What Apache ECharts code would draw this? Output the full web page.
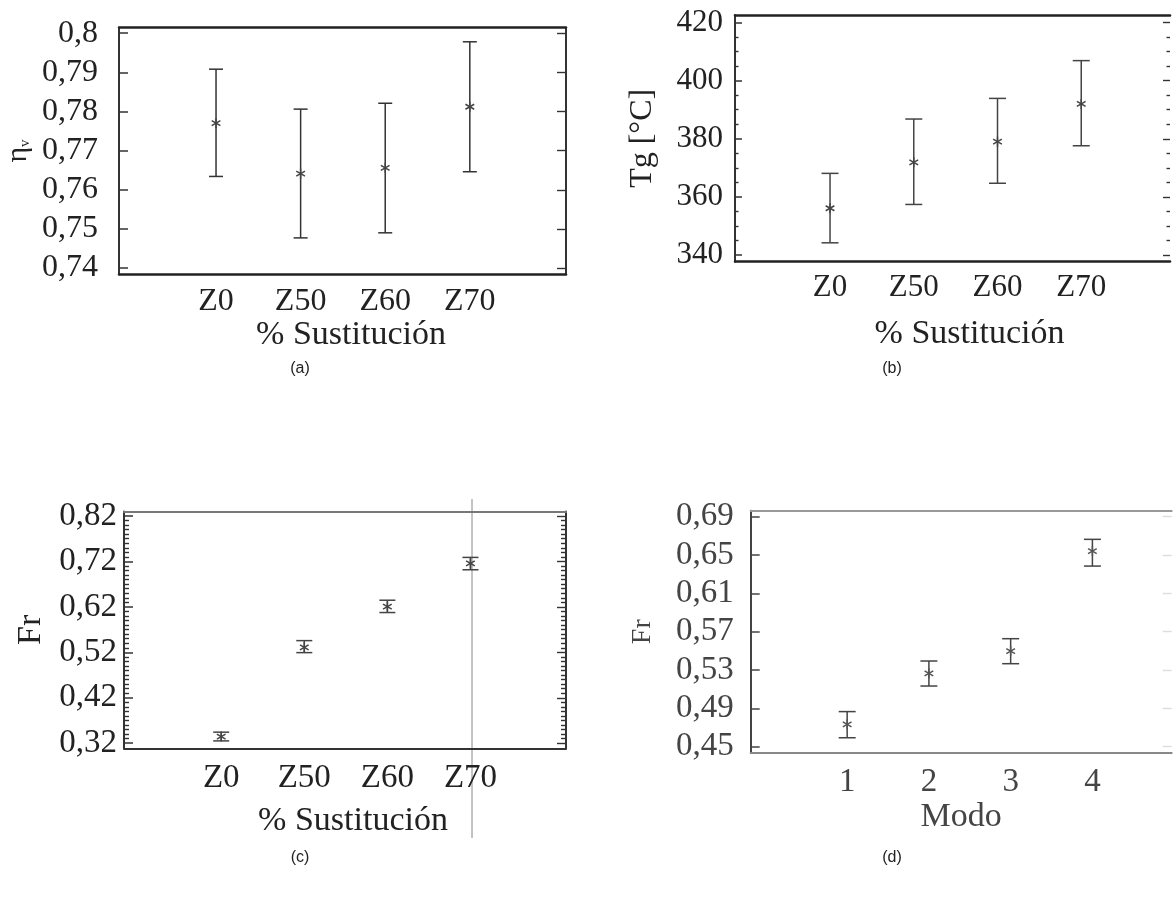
<!DOCTYPE html>
<html>
<head>
<meta charset="utf-8">
<title>Sustitución</title>
<script src="https://cdn.jsdelivr.net/npm/echarts@6/dist/echarts.min.js"></script>
<style>
  html, body { margin: 0; padding: 0; background: #fff; }
  #chart { width: 1173px; height: 903px; }
</style>
</head>
<body>
<div id="chart"></div>
<script>
// categorias del eje x
var categoriasZ = ['Z0', 'Z50', 'Z60', 'Z70'];
var categoriasModo = ['1', '2', '3', '4'];
var posiciones = [1, 2, 3, 4];

// (a) eta_v
var etaMedia = [0.7770, 0.7641, 0.7656, 0.7812];
var etaInf = [0.7634, 0.7477, 0.7490, 0.7646];
var etaSup = [0.7908, 0.7806, 0.7821, 0.7978];
var ticksEta = [0.74, 0.75, 0.76, 0.77, 0.78, 0.79, 0.80];

// (b) Tg [°C]
var tgMedia = [356.1, 371.9, 379.0, 392.0];
var tgInf = [344.2, 357.4, 364.7, 377.6];
var tgSup = [368.1, 386.8, 393.9, 406.9];
var ticksTg = [340, 360, 380, 400, 420];

// (c) Fr vs % sustitucion
var frZMedia = [0.3347, 0.5310, 0.6207, 0.7156];
var frZInf = [0.3251, 0.5193, 0.6075, 0.7016];
var frZSup = [0.3443, 0.5457, 0.6346, 0.7288];
var ticksFrZ = [0.32, 0.42, 0.52, 0.62, 0.72, 0.82];

// (d) Fr vs modo
var frModoMedia = [0.4733, 0.5265, 0.5498, 0.6542];
var frModoInf = [0.4593, 0.5133, 0.5366, 0.6385];
var frModoSup = [0.4866, 0.5394, 0.5627, 0.6664];
var ticksFrModo = [0.45, 0.49, 0.53, 0.57, 0.61, 0.65, 0.69];

var serif = 'Liberation Serif';

function coma(v) {
  return String(+(+v).toFixed(2)).replace('.', ',');
}

// marcas menores entre dos principales
function menores(ticks, n) {
  var out = [];
  for (var i = 0; i < ticks.length - 1; i++) {
    var paso = (ticks[i + 1] - ticks[i]) / n;
    for (var k = 1; k < n; k++) out.push(ticks[i] + paso * k);
  }
  return out;
}

function filas(media, inf, sup) {
  return posiciones.map(function (x, i) { return [x, media[i], inf[i], sup[i]]; });
}

function barraError(color, cap, lw, markColor) {
  return function (params, api) {
    var x = api.value(0);
    var c = api.coord([x, api.value(1)]);
    var lo = api.coord([x, api.value(2)]);
    var hi = api.coord([x, api.value(3)]);
    var h = cap / 2, s = 5, dx = s * 0.87, dy = s * 0.5;
    var st = { stroke: color, lineWidth: lw };
    var sm = { stroke: markColor, lineWidth: 1.5 };
    return {
      type: 'group',
      children: [
        { type: 'line', shape: { x1: hi[0], y1: hi[1], x2: lo[0], y2: lo[1] }, style: st },
        { type: 'line', shape: { x1: hi[0] - h, y1: hi[1], x2: hi[0] + h, y2: hi[1] }, style: st },
        { type: 'line', shape: { x1: lo[0] - h, y1: lo[1], x2: lo[0] + h, y2: lo[1] }, style: st },
        { type: 'line', shape: { x1: c[0] - dx, y1: c[1] - dy, x2: c[0] + dx, y2: c[1] + dy }, style: sm },
        { type: 'line', shape: { x1: c[0] - dx, y1: c[1] + dy, x2: c[0] + dx, y2: c[1] - dy }, style: sm },
        { type: 'line', shape: { x1: c[0], y1: c[1] - s, x2: c[0], y2: c[1] + s }, style: sm }
      ]
    };
  };
}

var grid = [], xAxis = [], yAxis = [], series = [];

// eje y sin rotulos, solo marcas (principales o menores)
function ejeMarcas(g, p, pos, valores, largo, color, linea) {
  return {
    type: 'value', gridIndex: g, min: p.yMin, max: p.yMax, position: pos, offset: 0,
    axisLine: linea || { show: true, onZero: false, lineStyle: { color: 'rgba(0,0,0,0)', width: 0 } },
    axisTick: { show: true, inside: true, length: largo, customValues: valores, lineStyle: { color: color, width: 1.4 } },
    axisLabel: { show: false }, splitLine: { show: false }
  };
}

function agregarPanel(p) {
  var g = grid.length;
  grid.push({ left: p.left, top: p.top, width: p.width, height: p.height });
  var xi = xAxis.length;
  xAxis.push({
    type: 'value', gridIndex: g, min: p.xMin, max: p.xMax, position: 'bottom', offset: 0,
    axisLine: { show: true, onZero: false, lineStyle: { color: p.bottomColor, width: p.bottomWidth } },
    axisTick: { show: false },
    splitLine: { show: false },
    axisLabel: {
      customValues: posiciones,
      formatter: function (v) { return p.cats[Math.round(v) - 1]; },
      fontFamily: serif, fontSize: p.fs, color: p.textColor, margin: p.xMargin
    },
    name: p.xName, nameLocation: 'middle', nameGap: p.xNameGap,
    nameTextStyle: { fontFamily: serif, fontSize: p.nameFs, color: p.textColor, padding: p.xNamePad || 0 }
  });
  xAxis.push({
    type: 'value', gridIndex: g, min: p.xMin, max: p.xMax, position: 'top', offset: 0,
    axisLine: { show: true, onZero: false, lineStyle: { color: p.topColor, width: p.topWidth } },
    axisTick: { show: false }, axisLabel: { show: false }, splitLine: { show: false }
  });
  var yi = yAxis.length;
  yAxis.push({
    type: 'value', gridIndex: g, min: p.yMin, max: p.yMax, position: 'left', offset: 0,
    axisLine: { show: true, onZero: false, lineStyle: { color: p.leftColor, width: p.leftWidth } },
    axisTick: { show: true, inside: true, length: p.tickLen, customValues: p.ticks, lineStyle: { color: p.leftColor, width: 1.5 } },
    axisLabel: { customValues: p.ticks, formatter: coma, fontFamily: serif, fontSize: p.fs, color: p.textColor, margin: p.yMargin },
    splitLine: { show: false },
    name: p.yName, nameLocation: 'middle', nameRotate: 90, nameGap: p.yNameGap,
    nameTextStyle: p.yNameStyle
  });
  if (p.minor) yAxis.push(ejeMarcas(g, p, 'left', p.minor, p.minorLen, p.leftColor));
  yAxis.push(ejeMarcas(g, p, 'right', p.ticks, p.tickLen, p.rightTickColor,
    { show: p.rightLine, onZero: false, lineStyle: { color: p.rightColor, width: p.rightWidth } }));
  if (p.minor) yAxis.push(ejeMarcas(g, p, 'right', p.minor, p.minorLen, p.rightTickColor));
  series.push({
    type: 'custom', xAxisIndex: xi, yAxisIndex: yi,
    renderItem: barraError(p.barColor, p.cap, 1.5, p.markColor),
    encode: { x: 0, y: [1, 2, 3] },
    data: p.data, clip: false, silent: true
  });
}

// (a)
agregarPanel({
  left: 119, top: 27.7, width: 447, height: 246.6,
  xMin: -0.147, xMax: 5.137, yMin: 0.7384, yMax: 0.8014,
  cats: categoriasZ, ticks: ticksEta, tickLen: 9, rightLine: true,
  fs: 32, nameFs: 34, textColor: '#222', xMargin: 11, yMargin: 21,
  xName: '% Sustitución', xNameGap: 29, xNamePad: [0, 0, 0, 17],
  yName: '{e|η}{s|v}', yNameGap: 86,
  yNameStyle: { fontFamily: serif, color: '#222', rich: { e: { fontSize: 30, fontFamily: serif, verticalAlign: 'bottom' }, s: { fontSize: 15, fontFamily: serif, verticalAlign: 'bottom' } } },
  bottomColor: '#222', bottomWidth: 2.5, topColor: '#222', topWidth: 2.5,
  leftColor: '#333', leftWidth: 2, rightColor: '#333', rightWidth: 2, rightTickColor: '#333',
  barColor: '#333', markColor: '#444', cap: 14,
  data: filas(etaMedia, etaInf, etaSup)
});

// (b)
agregarPanel({
  left: 735, top: 15, width: 435, height: 246.7,
  xMin: -0.135, xMax: 5.06, yMin: 337.7, yMax: 422.6,
  cats: categoriasZ, ticks: ticksTg, minor: menores(ticksTg, 4), tickLen: 7, minorLen: 3.5,
  rightLine: false,
  fs: 31, nameFs: 34, textColor: '#222', xMargin: 11, yMargin: 12,
  xName: '% Sustitución', xNameGap: 55, xNamePad: [0, 0, 0, 34],
  yName: 'Tg [°C]', yNameGap: 76,
  yNameStyle: { fontFamily: serif, fontSize: 32, color: '#222' },
  bottomColor: '#222', bottomWidth: 2.5, topColor: '#222', topWidth: 2.5,
  leftColor: '#333', leftWidth: 2, rightColor: '#333', rightWidth: 2, rightTickColor: '#333',
  barColor: '#444', markColor: '#444', cap: 17,
  data: filas(tgMedia, tgInf, tgSup)
});

// (c)
agregarPanel({
  left: 124, top: 511.5, width: 442, height: 236.8,
  xMin: -0.17, xMax: 5.15, yMin: 0.3088, yMax: 0.8298,
  cats: categoriasZ, ticks: ticksFrZ, minor: menores(ticksFrZ, 10), tickLen: 9, minorLen: 5,
  rightLine: true,
  fs: 33, nameFs: 34, textColor: '#222', xMargin: 14, yMargin: 7,
  xName: '% Sustitución', xNameGap: 56, xNamePad: [0, 0, 0, 16],
  yName: 'Fr', yNameGap: 76,
  yNameStyle: { fontFamily: serif, fontSize: 34, color: '#222' },
  bottomColor: '#333', bottomWidth: 2, topColor: '#777', topWidth: 2,
  leftColor: '#333', leftWidth: 2, rightColor: '#333', rightWidth: 2, rightTickColor: '#333',
  barColor: '#444', markColor: '#444', cap: 16,
  data: filas(frZMedia, frZInf, frZSup)
});

// (d)
agregarPanel({
  left: 750.7, top: 510.7, width: 421, height: 242,
  xMin: -0.18, xMax: 4.97, yMin: 0.4437, yMax: 0.6963,
  cats: categoriasModo, ticks: ticksFrModo, tickLen: 9,
  rightLine: false,
  fs: 33, nameFs: 34, textColor: '#444', xMargin: 13, yMargin: 17,
  xName: 'Modo', xNameGap: 43,
  yName: 'Fr', yNameGap: 94,
  yNameStyle: { fontFamily: serif, fontSize: 28, color: '#444' },
  bottomColor: '#888', bottomWidth: 2, topColor: '#999', topWidth: 2,
  leftColor: '#444', leftWidth: 2, rightColor: '#ddd', rightWidth: 1, rightTickColor: '#ddd',
  barColor: '#444', markColor: '#555', cap: 17,
  data: filas(frModoMedia, frModoInf, frModoSup)
});

var rotulos = [
  { text: '(a)', x: 300, y: 369 },
  { text: '(b)', x: 892, y: 369 },
  { text: '(c)', x: 300, y: 858 },
  { text: '(d)', x: 892, y: 858 }
];

var myChart = echarts.init(document.getElementById('chart'));
var option = {
  animation: false,
  backgroundColor: '#fff',
  grid: grid,
  xAxis: xAxis,
  yAxis: yAxis,
  series: series,
  graphic: rotulos.map(function (r) {
    return {
      type: 'text', x: r.x, y: r.y,
      style: { text: r.text, align: 'center', verticalAlign: 'middle', fontSize: 16, fontFamily: 'Liberation Sans', fill: '#222' }
    };
  }).concat([{
    // linea vertical suelta en (c)
    type: 'line', shape: { x1: 472, y1: 499, x2: 472, y2: 838 },
    style: { stroke: '#888', lineWidth: 1 }
  }])
};
myChart.setOption(option);
</script>
</body>
</html>
